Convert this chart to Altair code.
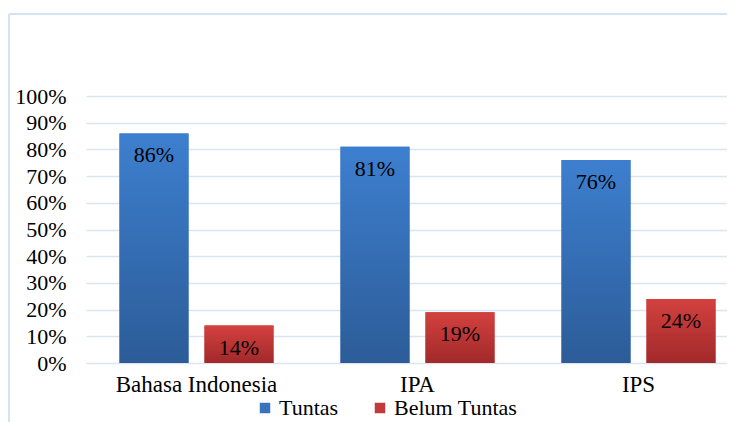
import altair as alt
import pandas as pd

subjects = ["Bahasa Indonesia", "IPA", "IPS"]
series = ["Tuntas", "Belum Tuntas"]
tuntas = [0.86, 0.81, 0.76]
belum = [0.14, 0.19, 0.24]
y_ticks = [0, 0.1, 0.2, 0.3, 0.4, 0.5, 0.6, 0.7, 0.8, 0.9, 1.0]

rows = []
for s, t, b in zip(subjects, tuntas, belum):
    rows.append({"subject": s, "series": "Tuntas", "value": t})
    rows.append({"subject": s, "series": "Belum Tuntas", "value": b})
df = pd.DataFrame(rows)

FONT = "Liberation Serif, Times New Roman, DejaVu Serif, serif"
x = alt.X("subject:N", sort=subjects, title=None,
          scale=alt.Scale(range=[0, 663], paddingInner=0, paddingOuter=0),
          axis=alt.Axis(labelAngle=0, labelFont=FONT, labelFontSize=23, labelColor="black",
                        ticks=False, domain=False, labelPadding=10, grid=False))
xo = alt.XOffset("series:N", sort=series,
                 scale=alt.Scale(domain=series, paddingInner=0.188, paddingOuter=0.394))
y = alt.Y("value:Q", title=None,
          scale=alt.Scale(domain=[0, 1], nice=False),
          axis=alt.Axis(values=y_ticks, format=".0%", labelFont=FONT, labelFontSize=22,
                        labelColor="black", ticks=False, domain=False, labelPadding=20,
                        gridColor="#dbe5f1", gridWidth=1.5))

base = alt.Chart(df).mark_bar().encode(
    x=x, xOffset=xo, y=y,
    color=alt.Color("series:N", sort=series,
                    scale=alt.Scale(domain=series, range=["#3a72bd", "#c23a3a"]),
                    legend=alt.Legend(title=None, orient="none", legendX=168, legendY=301,
                                      direction="horizontal", symbolType="square",
                                      symbolSize=110, symbolStrokeWidth=0,
                                      labelFont=FONT, labelFontSize=22, labelColor="black",
                                      labelOffset=3, columnPadding=30, padding=0)),
)

blue_grad = alt.Gradient(gradient="linear", x1=0, x2=0, y1=0, y2=1,
                         stops=[alt.GradientStop(color="#3d7fcf", offset=0),
                                alt.GradientStop(color="#2c5c98", offset=1)])
red_grad = alt.Gradient(gradient="linear", x1=0, x2=0, y1=0, y2=1,
                        stops=[alt.GradientStop(color="#d3413f", offset=0),
                               alt.GradientStop(color="#a2292a", offset=1)])

blue = alt.Chart(df).transform_filter(alt.datum.series == "Tuntas").mark_bar(
    color=blue_grad).encode(x=x, xOffset=xo, y=y)
red = alt.Chart(df).transform_filter(alt.datum.series == "Belum Tuntas").mark_bar(
    color=red_grad).encode(x=x, xOffset=xo, y=y)

labels = alt.Chart(df).mark_text(font=FONT, fontSize=22, color="black",
                                 baseline="middle", dy=22).encode(
    x=x, xOffset=xo, y=y, text=alt.Text("value:Q", format=".0%"))

border_left = alt.Chart(df).mark_rule(color="#d6e3f2", strokeWidth=2).encode(
    x=alt.value(-77), y=alt.value(-82), y2=alt.value(360))
border_top = alt.Chart(df).mark_rule(color="#d6e3f2", strokeWidth=2).encode(
    x=alt.value(-77), x2=alt.value(700), y=alt.value(-82))

chart = alt.layer(border_left, border_top, base, blue, red, labels).properties(
    width=641, height=267,
    autosize=alt.AutoSizeParams(type="none"),
    padding={"left": 78, "top": 88, "right": 0, "bottom": 60},
).configure_view(stroke=None)

chart.save("out.html", embed_options={"renderer": "svg", "actions": False})
